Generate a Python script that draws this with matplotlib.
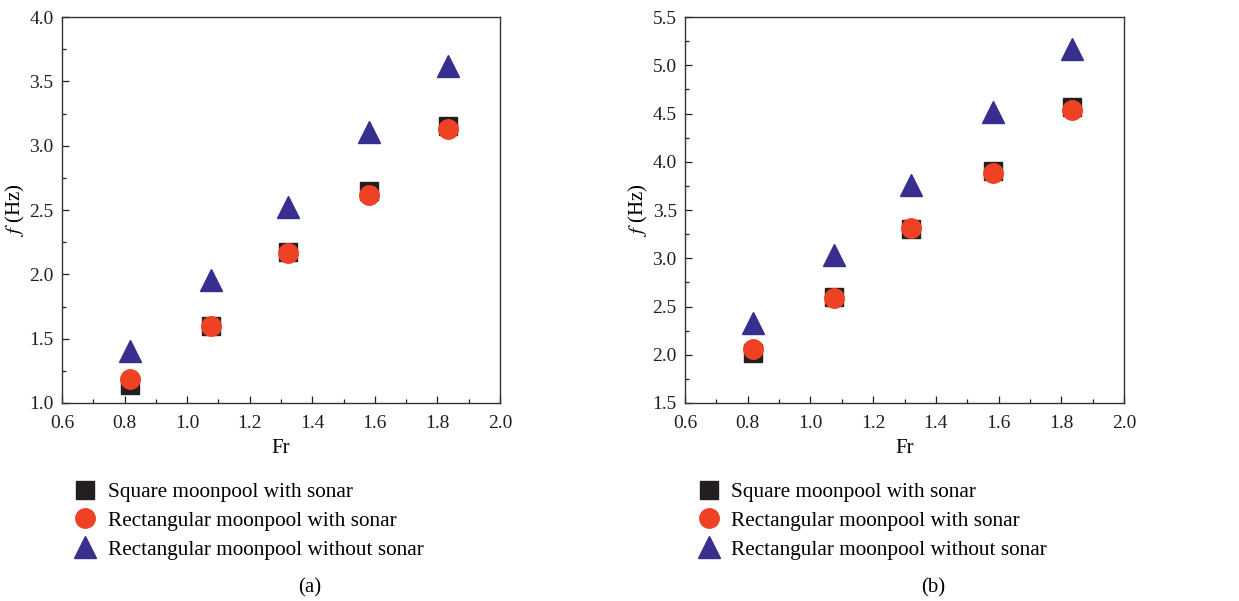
import matplotlib
matplotlib.use('Agg')
import matplotlib.pyplot as plt
from matplotlib.ticker import MultipleLocator
from matplotlib.lines import Line2D

plt.rcParams['font.family'] = 'Liberation Serif'
plt.rcParams['mathtext.fontset'] = 'stix'

fr = [0.816, 1.076, 1.321, 1.583, 1.833]

# panel (a)
sq_a = [1.14, 1.60, 2.17, 2.65, 3.15]
ci_a = [1.19, 1.595, 2.168, 2.616, 3.134]
tr_a = [1.406, 1.956, 2.525, 3.104, 3.617]

# panel (b)
sq_b = [2.02, 2.595, 3.30, 3.90, 4.57]
ci_b = [2.06, 2.585, 3.313, 3.883, 4.533]
tr_b = [2.332, 3.037, 3.762, 4.519, 5.168]

labels = ['Square moonpool with sonar',
          'Rectangular moonpool with sonar',
          'Rectangular moonpool without sonar']

c_sq = '#231f20'
c_ci = '#ef4123'
c_tr = '#382e8e'

fig = plt.figure(figsize=(12.39, 6.01), dpi=100)


def draw_panel(rect, sq, ci, tr, ylim, tag):
    ax = fig.add_axes(rect)
    ax.plot(fr, sq, 's', color=c_sq, ms=12.5, mec=c_sq, ls='none')
    ax.plot(fr, ci, 'o', color=c_ci, ms=14, mec=c_ci, ls='none')
    ax.plot(fr, tr, '^', color=c_tr, ms=16, mec=c_tr, ls='none')
    ax.set_xlim(0.6, 2.0)
    ax.set_ylim(*ylim)
    ax.xaxis.set_major_locator(MultipleLocator(0.2))
    ax.xaxis.set_minor_locator(MultipleLocator(0.1))
    ax.yaxis.set_major_locator(MultipleLocator(0.5))
    ax.yaxis.set_minor_locator(MultipleLocator(0.25))
    ax.xaxis.set_major_formatter(plt.FuncFormatter(lambda v, p: '%.1f' % v))
    ax.yaxis.set_major_formatter(plt.FuncFormatter(lambda v, p: '%.1f' % v))
    ax.tick_params(which='both', direction='in', top=False, right=False,
                   labelsize=14, colors='#231f20')
    ax.tick_params(which='major', length=5, width=0.9)
    ax.tick_params(which='minor', length=3, width=0.9)
    ax.tick_params(axis='x', which='major', pad=9)
    ax.tick_params(axis='y', which='major', pad=6)
    for s in ax.spines.values():
        s.set_color('#333333')
        s.set_linewidth(1.0)
    ax.set_xlabel('Fr', fontsize=15, labelpad=5)
    ax.set_ylabel(r'$f$ (Hz)', fontsize=15)
    ax.yaxis.set_label_coords(-0.08, 0.5)

    handles = [
        Line2D([], [], marker='s', color=c_sq, ms=12.5, ls='none'),
        Line2D([], [], marker='o', color=c_ci, ms=14, ls='none'),
        Line2D([], [], marker='^', color=c_tr, ms=16, ls='none'),
    ]
    ax.legend(handles, labels, loc='upper left', bbox_to_anchor=(0.01, -0.183),
              frameon=False, fontsize=15.3, handlelength=1.0, handletextpad=0.55,
              labelspacing=0.42, borderaxespad=0)
    ax.text(0.565, -0.48, tag, transform=ax.transAxes, ha='center', va='center',
            fontsize=15)
    return ax


draw_panel([0.050, 0.3295, 0.3535, 0.642], sq_a, ci_a, tr_a, (1.0, 4.0), '(a)')
draw_panel([0.5529, 0.3295, 0.3543, 0.642], sq_b, ci_b, tr_b, (1.5, 5.5), '(b)')

fig.savefig('out.png', dpi=100)
